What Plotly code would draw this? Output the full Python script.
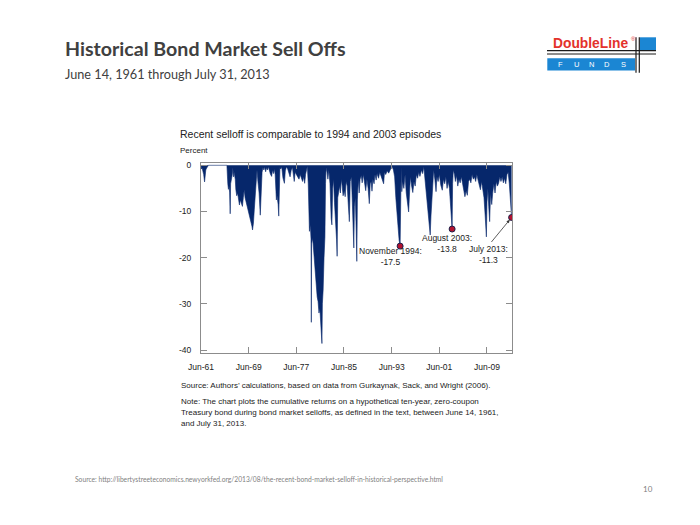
import plotly.graph_objects as go

# ---------------- data ----------------
years = [
    1961.45, 1961.5, 1961.6, 1961.75, 1961.9, 1962.05, 1962.12, 1962.25, 1962.4, 1962.55, 1962.7,
    1965.8, 1965.85, 1965.95, 1966.05, 1966.15, 1966.25, 1966.35, 1966.42, 1966.55, 1966.7, 1966.8, 1966.9,
    1967.0, 1967.2, 1967.3, 1967.45, 1967.6, 1967.75, 1967.9, 1968.05, 1968.2, 1968.4, 1968.55, 1968.7,
    1968.85, 1969.0, 1969.2, 1969.4, 1969.55, 1969.7, 1969.85, 1970.0, 1970.1, 1970.25, 1970.4, 1970.55,
    1970.7, 1970.85, 1971.0, 1971.2, 1971.4, 1971.55, 1971.7,
    1971.85, 1972.0, 1972.15, 1972.3, 1972.45, 1972.6, 1972.75, 1972.9, 1973.1, 1973.3, 1973.45, 1973.6,
    1973.75, 1973.9, 1974.0, 1974.1, 1974.2, 1974.4, 1974.5, 1974.6, 1974.7,
    1974.85, 1975.0, 1975.2, 1975.45, 1975.6, 1975.8, 1976.0, 1976.2, 1976.4, 1976.6, 1976.8, 1977.0,
    1977.1, 1977.25, 1977.5, 1977.9, 1978.1, 1978.3, 1978.5, 1978.7, 1978.85, 1979.0, 1979.15, 1979.3,
    1979.45, 1979.55, 1979.65, 1979.8, 1979.92, 1979.97, 1980.02, 1980.2, 1980.35, 1980.5, 1980.65,
    1980.8, 1980.95, 1981.1, 1981.25, 1981.4, 1981.55, 1981.68, 1981.75, 1981.82, 1981.95, 1982.1,
    1982.25, 1982.35, 1982.45,
    1982.6, 1982.75, 1982.9, 1983.1, 1983.3, 1983.42, 1983.55, 1983.7, 1983.85, 1984.05, 1984.2, 1984.3,
    1984.4, 1984.55, 1984.7, 1984.85, 1985.0, 1985.15, 1985.3, 1985.5, 1985.65, 1985.8, 1986.0, 1986.15,
    1986.35, 1986.5, 1986.7, 1986.85, 1987.0, 1987.1, 1987.2, 1987.35, 1987.5, 1987.6, 1987.7, 1987.85,
    1988.0, 1988.15, 1988.35, 1988.5, 1988.7, 1988.9, 1989.1, 1989.3, 1989.5, 1989.7, 1989.85, 1990.0,
    1990.15, 1990.3, 1990.5, 1990.65, 1990.85, 1991.0, 1991.25, 1991.45, 1991.65, 1991.85, 1992.1,
    1992.25, 1992.45, 1992.7, 1992.95, 1993.15, 1993.35, 1993.5,
    1993.75, 1993.95, 1994.15, 1994.35, 1994.55, 1994.7, 1994.87, 1994.95, 1995.05,
    1995.15, 1995.3, 1995.5, 1995.7, 1995.9, 1996.1, 1996.3, 1996.45, 1996.6, 1996.8, 1997.0, 1997.2,
    1997.4, 1997.6, 1997.8, 1998.0, 1998.2, 1998.45, 1998.65, 1998.85, 1999.0, 1999.2, 1999.4, 1999.6,
    1999.8, 1999.92, 2000.05, 2000.2, 2000.35,
    2000.5, 2000.7, 2000.9, 2001.05, 2001.25, 2001.45, 2001.7, 2001.95, 2002.15, 2002.35, 2002.55,
    2002.75, 2002.95, 2003.15, 2003.3, 2003.45, 2003.6, 2003.68, 2003.8,
    2004.0, 2004.15, 2004.35, 2004.55, 2004.75, 2004.95, 2005.15, 2005.35, 2005.55, 2005.75, 2005.95,
    2006.15, 2006.35, 2006.55, 2006.75, 2006.95, 2007.15, 2007.35, 2007.55, 2007.75, 2007.95, 2008.15,
    2008.35, 2008.55, 2008.75, 2008.95, 2009.15, 2009.35, 2009.45,
    2009.6, 2009.75, 2009.9, 2010.05, 2010.25, 2010.4, 2010.6, 2010.8, 2011.0, 2011.2, 2011.4, 2011.6,
    2011.8, 2012.0, 2012.2, 2012.4, 2012.6, 2012.8, 2013.0, 2013.2, 2013.4, 2013.58,
]
returns = [
    0, -0.8, -0.5, -1.2, -2.0, -3.6, -1.5, -1.0, -0.6, -0.3, 0,
    0, -2.5, -4.0, -5.2, -4.5, -5.8, -10.5, -4.0, -3.2, -2.0, -0.5, -2.5,
    -1.5, -3.0, -5.3, -6.6, -6.0, -7.8, -8.6, -7.5, -8.3, -8.9, -7.0, -5.3,
    -7.0, -7.8, -8.5, -9.7, -10.3, -11.5, -12.6, -13.2, -14.0, -12.5, -9.5, -6.0,
    -4.5, -1.0, -3.5, -6.0, -10.8, -4.0, -1.5,
    -0.5, -1.0, -0.3, -1.4, -0.5, -1.0, -0.3, -1.2, -1.9, -2.4, -1.0, -1.8,
    -0.8, -2.0, -4.5, -7.5, -6.5, -8.5, -11.0, -3.0, -0.5,
    -0.8, -0.3, -2.7, -3.9, -1.2, -0.3, -0.8, -1.5, -2.5, -1.0, -0.5, -2.5,
    -3.5, -1.5, -2.2, -3.0, -2.0, -2.8, -3.5, -2.5, -3.9, -2.0, -1.0, -0.2,
    -4.0, -12.0, -14.3, -13.0, -16.0, -34.0, -17.0, -15.8, -18.5, -21.0, -22.5,
    -26.5, -28.5, -29.5, -32.0, -31.0, -34.5, -37.4, -38.6, -30.0, -27.0, -20.0,
    -15.5, -4.0, -0.5,
    -1.5, -3.0, -1.0, -4.0, -11.5, -12.9, -5.0, -3.0, -8.0, -12.0, -16.0, -19.7,
    -7.0, -5.9, -4.5, -6.0, -3.0, -4.5, -6.6, -5.5, -6.8, -3.5, -4.5, -8.0,
    -12.2, -3.5, -2.5, -8.0, -14.0, -17.9, -9.0, -7.0, -14.0, -20.8, -7.5, -3.0,
    -6.0, -3.0, -2.2, -3.8, -2.0, -4.5, -5.5, -3.0, -5.0, -8.3, -4.0, -3.5,
    -5.6, -3.0, -4.0, -2.0, -3.2, -1.8, -2.8, -1.5, -2.5, -3.0, -4.0,
    -1.5, -2.0, -1.2, -1.7, -1.2, -0.6, -0.2,
    -1.0, -2.5, -7.0, -11.0, -14.3, -16.2, -17.5, -2.0, -0.5,
    -5.7, -3.5, -5.0, -2.0, -6.0, -8.5, -10.1, -6.0, -2.5, -4.5, -5.9, -3.5,
    -4.5, -2.0, -2.8, -1.5, -2.4, -1.0, -1.8, -0.3, -2.5, -6.0, -9.0, -12.2,
    -14.5, -15.1, -11.0, -7.5, -3.0,
    -1.0, -3.0, -5.7, -2.5, -3.5, -2.0, -4.3, -5.4, -3.0, -4.0, -2.5,
    -5.0, -3.5, -5.0, -8.0, -11.0, -13.8, -4.0, -1.0,
    -2.0, -3.5, -2.2, -4.5, -3.0, -3.8, -2.5, -4.0, -5.5, -6.8, -5.5,
    -6.5, -3.5, -3.0, -3.8, -2.0, -3.0, -2.5, -3.5, -2.0, -3.2, -4.5,
    -5.3, -3.5, -5.0, -7.0, -11.0, -15.5, -8.0,
    -5.0, -9.0, -12.2, -6.0, -8.5, -6.1, -4.0, -6.0, -3.5, -4.5, -3.9, -2.5,
    -3.5, -2.5, -3.8, -2.8, -4.0, -2.0, -1.5, -4.0, -8.0, -11.3,
]

highlight_years = [1994.87, 2003.6, 2013.58]
highlight_values = [-17.5, -13.8, -11.3]
highlight_labels = ["November 1994:<br>-17.5", "August 2003:<br>-13.8", "July 2013:<br>-11.3"]

tick_years = [1961.45, 1969.45, 1977.45, 1985.45, 1993.45, 2001.45, 2009.45]
tick_labels = ["Jun-61", "Jun-69", "Jun-77", "Jun-85", "Jun-93", "Jun-01", "Jun-09"]
y_ticks = [0, -10, -20, -30, -40]
y_tick_labels = ["0", "-10", "-20", "-30", "-40"]

# ---------------- layout geometry ----------------
W, H = 700, 525
L, R, T, B = 201, 188, 163, 172
PW, PH = W - L - R, H - T - B


def px(x):
    return (x - L) / PW


def py(y):
    return (H - B - y) / PH


NAVY = "#06276b"
ARIAL = "Liberation Sans, Arial, sans-serif"

fig = go.Figure()
fig.add_trace(go.Scatter(
    x=years, y=returns, mode="lines", fill="tozeroy",
    line=dict(color=NAVY, width=0.6), fillcolor=NAVY,
    hoverinfo="skip", showlegend=False,
))
fig.add_trace(go.Scatter(
    x=highlight_years, y=highlight_values, mode="markers",
    marker=dict(size=6, color="#b3122f", line=dict(color="#1c1f4a", width=1)),
    showlegend=False, hoverinfo="skip",
))

axis_common = dict(
    showgrid=False, zeroline=False, showline=True, linecolor="#8c8c8c", linewidth=1,
    mirror="ticks", ticks="inside", ticklen=6, tickcolor="#8c8c8c", tickwidth=1,
    tickfont=dict(family=ARIAL, size=8.5, color="#222222"),
)
fig.update_xaxes(range=[1961.45, 2013.65], tickvals=tick_years, ticktext=tick_labels,
                 ticklabelstandoff=6, **axis_common)
fig.update_yaxes(range=[-40.65, 0.5], tickvals=y_ticks, ticktext=y_tick_labels,
                 ticklabelstandoff=7, **axis_common)

ann = []
# episode labels
label_pos = [(390, 256.4), (447.3, 243.8), (488.7, 254.7)]
for (lx, ly), txt_ in zip(label_pos, highlight_labels):
    ann.append(dict(x=px(lx), y=py(ly), xref="paper", yref="paper", text=txt_, showarrow=False,
                    xanchor="center", yanchor="middle", align="center",
                    font=dict(family=ARIAL, size=8.5, color="#222222")))
# arrow for July 2013
ann.append(dict(x=highlight_years[2], y=highlight_values[2], xref="x", yref="y",
                ax=2009.99, ay=-16.93, axref="x", ayref="y", text="", showarrow=True,
                arrowhead=2, arrowsize=0.8, arrowwidth=0.8, arrowcolor="#333333", standoff=3))


def txt(x, y, s, size, color="#222222", family=ARIAL, anchor="left", bold=False):
    if bold:
        s = "<b>" + s + "</b>"
    ann.append(dict(x=px(x), y=py(y), xref="paper", yref="paper", text=s, showarrow=False,
                    xanchor=anchor, yanchor="middle", align=anchor,
                    font=dict(family=family, size=size, color=color)))


txt(63, 49, "Historical Bond Market Sell Offs", 19.6, "#404040", "Lato, sans-serif", bold=True)
txt(63, 74, "June 14, 1961 through July 31, 2013", 12.7, "#404040", "Lato, sans-serif")
txt(178, 134, "Recent selloff is comparable to 1994 and 2003 episodes", 10.5)
txt(178, 150, "Percent", 8)
txt(179, 385, "Source: Authors\u2019 calculations, based on data from Gurkaynak, Sack, and Wright (2006).", 8)
txt(179, 401, "Note: The chart plots the cumulative returns on a hypothetical ten-year, zero-coupon", 8)
txt(179, 412, "Treasury bond during bond market selloffs, as defined in the text, between June 14, 1961,", 8)
txt(179, 423, "and July 31, 2013.", 8)
txt(73, 479, "Source: http://libertystreeteconomics.newyorkfed.org/2013/08/the-recent-bond-market-selloff-in-historical-perspective.html",
    6.7, "#7f7f7f", "Lato, sans-serif")
txt(648, 489, "10", 8, "#7f7f7f", "Lato, sans-serif", anchor="center")

# ---------------- logo ----------------
BLUE = "#1b86d3"
shapes = [
    dict(type="rect", x0=px(547.3), x1=px(635), y0=py(58.3), y1=py(70.5), xref="paper", yref="paper",
         fillcolor=BLUE, line=dict(width=0), layer="above"),
    dict(type="rect", x0=px(640), x1=px(656), y0=py(37.3), y1=py(50), xref="paper", yref="paper",
         fillcolor=BLUE, line=dict(width=0), layer="above"),
]
for yy in (50.7, 54):
    shapes.append(dict(type="line", x0=px(547), x1=px(656), y0=py(yy), y1=py(yy), xref="paper", yref="paper",
                       line=dict(color="#1a1a1a", width=1.2), layer="above"))
for xx in (636, 639.3):
    shapes.append(dict(type="line", x0=px(xx), x1=px(xx), y0=py(37.3), y1=py(72.7), xref="paper", yref="paper",
                       line=dict(color="#1a1a1a", width=1.2), layer="above"))

txt(551, 43, "DoubleLine", 13.8, "#e3322b", ARIAL, bold=True)
txt(629, 38.5, "\u00ae", 6, "#e3322b", ARIAL)
for lx, letter in zip([560, 576.7, 591.7, 606.7, 623.3], ["F", "U", "N", "D", "S"]):
    txt(lx, 64.5, letter, 7.5, "white", ARIAL, anchor="center")

fig.update_layout(
    width=W, height=H, margin=dict(l=L, r=R, t=T, b=B, autoexpand=False),
    paper_bgcolor="white", plot_bgcolor="white",
    annotations=ann, shapes=shapes, showlegend=False,
)

fig.write_html("out.html", config={"displayModeBar": False},
               post_script="document.body.style.margin='0';document.body.style.padding='0';")
